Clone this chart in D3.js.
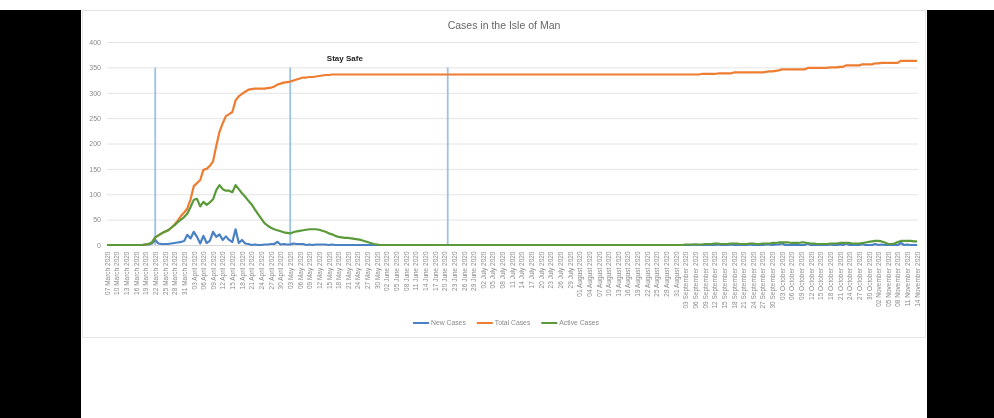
<!DOCTYPE html>
<html>
<head>
<meta charset="utf-8">
<script src="https://cdn.jsdelivr.net/npm/d3@7"></script>
<style>
	html, body { margin: 0; padding: 0; background: #000; }
	svg { display: block; filter: blur(0.45px); }
</style>
</head>
<body>
<div id="chart"></div>
<script>
// daily series, first value = 07 March 2020
const startDate = Date.UTC(2020, 2, 7);

const newCases = [
	0,0,0,0,0,0,0,0,0,0,
	0,0,1,1,3,10,3,2,2,2,
	3,4,5,6,8,20,13,26,16,3,
	18,4,8,26,16,21,10,17,10,6,
	31,4,10,3,2,0,1,0,0,1,
	1,2,2,6,1,2,1,1,3,2,
	2,2,0,1,0,1,1,1,1,0,
	1,0,0,0,0,0,0,0,0,0,
	0,0,0,0,0,0,0,0,0,0,
	0,0,0,0,0,0,0,0,0,0,
	0,0,0,0,0,0,0,0,0,0,
	0,0,0,0,0,0,0,0,0,0,
	0,0,0,0,0,0,0,0,0,0,
	0,0,0,0,0,0,0,0,0,0,
	0,0,0,0,0,0,0,0,0,0,
	0,0,0,0,0,0,0,0,0,0,
	0,0,0,0,0,0,0,0,0,0,
	0,0,0,0,0,0,0,0,0,0,
	0,0,0,1,0,0,0,0,0,0,
	1,0,0,0,1,0,0,0,0,0,
	1,0,0,0,0,1,1,0,1,1,
	3,0,0,0,0,0,0,0,3,0,
	0,0,0,0,0,1,0,0,1,0,
	3,0,0,0,0,2,0,0,0,2,
	0,1,0,0,0,0,0,4,0,1,
	0,0,0
];
const totalCases = [
	0,0,0,0,0,0,0,0,0,0,
	0,0,1,2,5,15,19,23,26,29,
	34,40,48,57,64,72,90,116,122,128,
	148,150,156,165,195,223,240,254,258,262,
	285,293,298,302,306,307,308,308,308,308,
	309,310,312,316,318,320,321,322,324,326,
	328,330,330,331,331,332,333,334,335,335,
	336,336,336,336,336,336,336,336,336,336,
	336,336,336,336,336,336,336,336,336,336,
	336,336,336,336,336,336,336,336,336,336,
	336,336,336,336,336,336,336,336,336,336,
	336,336,336,336,336,336,336,336,336,336,
	336,336,336,336,336,336,336,336,336,336,
	336,336,336,336,336,336,336,336,336,336,
	336,336,336,336,336,336,336,336,336,336,
	336,336,336,336,336,336,336,336,336,336,
	336,336,336,336,336,336,336,336,336,336,
	336,336,336,336,336,336,336,336,336,336,
	336,336,336,336,336,337,337,337,337,337,
	338,338,338,338,338,340,340,340,340,340,
	340,340,340,340,340,341,342,342,343,344,
	346,346,346,346,346,346,346,346,349,349,
	349,349,349,349,349,350,350,350,351,351,
	354,354,354,354,354,356,356,356,356,358,
	358,359,359,359,359,359,359,363,363,363,
	363,363,363
];
const activeCases = [
	0,0,0,0,0,0,0,0,0,0,
	0,0,1,2,5,15,19,23,26,29,
	34,39,45,50,55,62,75,89,91,76,
	85,79,84,90,108,118,110,107,107,104,
	118,110,102,95,87,80,70,61,52,43,
	38,34,31,29,27,25,24,23,25,27,
	28,29,30,31,31,31,30,28,26,23,
	21,18,16,15,14,14,13,12,11,10,
	8,6,4,2,1,0,0,0,0,0,
	0,0,0,0,0,0,0,0,0,0,
	0,0,0,0,0,0,0,0,0,0,
	0,0,0,0,0,0,0,0,0,0,
	0,0,0,0,0,0,0,0,0,0,
	0,0,0,0,0,0,0,0,0,0,
	0,0,0,0,0,0,0,0,0,0,
	0,0,0,0,0,0,0,0,0,0,
	0,0,0,0,0,0,0,0,0,0,
	0,0,0,0,0,0,0,0,0,0,
	1,1,1,1,1,1,2,2,2,3,
	3,2,2,2,3,3,3,2,2,2,
	3,3,2,2,3,3,3,4,4,5,
	5,5,5,4,4,4,5,5,4,3,
	3,2,2,2,2,3,3,3,4,4,
	4,4,3,3,3,4,5,6,7,8,
	8,7,5,2,2,3,6,8,8,8,
	8,7,7
];

const seriesNames = ['New Cases', 'Total Cases', 'Active Cases'];
const seriesColors = ['#4a80c4', '#ed7d31', '#5a9a3a'];
const yTicks = [0, 50, 100, 150, 200, 250, 300, 350, 400];
const tickEvery = 3;	// days between x labels

// vertical marker lines + note
const markerDates = [Date.UTC(2020, 2, 22), Date.UTC(2020, 4, 3), Date.UTC(2020, 5, 21)];
const markerTop = 350;
const noteText = 'Stay Safe';
const noteDate = Date.UTC(2020, 4, 20);
const noteValue = 368;

const chartTitle = 'Cases in the Isle of Man';

function renderChart() {
	const W = 994, H = 418;
	const panel = { left: 81, right: 927, top: 10, bottom: 337 };
	const plot = { left: 107, right: 917, top: 42, bottom: 245 };

	const dates = newCases.map((_, i) => d3.utcDay.offset(new Date(startDate), i));
	const series = [newCases, totalCases, activeCases];

	const svg = d3.select('#chart')
		.append('svg')
		.attr('width', W)
		.attr('height', H)
		.style('font-family', '"Liberation Sans", Arial, sans-serif');

	// page background
	svg.append('rect').attr('x', 0).attr('y', 0).attr('width', W).attr('height', panel.top).attr('fill', '#fff');
	svg.append('rect').attr('x', panel.left).attr('y', 0).attr('width', panel.right - panel.left).attr('height', H).attr('fill', '#fff');
	svg.append('rect')
		.attr('x', panel.left + 1.5).attr('y', panel.top + 0.5)
		.attr('width', panel.right - panel.left - 3).attr('height', panel.bottom - panel.top)
		.attr('fill', 'none')
		.attr('stroke', '#e6e6e6');

	const x = d3.scaleUtc().domain(d3.extent(dates)).range([plot.left, plot.right]);
	const y = d3.scaleLinear().domain([0, 400]).range([plot.bottom, plot.top]);

	// title
	svg.append('text')
		.attr('x', 504).attr('y', 28.5)
		.attr('text-anchor', 'middle')
		.style('font-size', '10.5px')
		.style('fill', '#666')
		.text(chartTitle);

	// gridlines
	svg.append('g')
		.selectAll('line')
		.data(yTicks.filter(d => d > 0))
		.enter()
		.append('line')
		.attr('x1', plot.left).attr('x2', plot.right + 1)
		.attr('y1', d => y(d) + 0.5).attr('y2', d => y(d) + 0.5)
		.attr('stroke', '#e4e4e4')
		.attr('stroke-width', 1);

	// y axis labels
	const yAxis = svg.append('g')
		.attr('transform', `translate(${plot.left - 6},0)`)
		.call(d3.axisLeft(y).tickValues(yTicks).tickSize(0).tickPadding(0));
	yAxis.select('.domain').remove();
	yAxis.selectAll('text')
		.style('font-size', '7px')
		.style('font-family', '"Liberation Sans", Arial, sans-serif')
		.style('fill', '#8a8a8a');

	// x axis
	const tickDates = dates.filter((_, i) => i % tickEvery === 0);
	const xAxis = svg.append('g')
		.attr('transform', `translate(0,${plot.bottom + 0.5})`)
		.call(d3.axisBottom(x).tickValues(tickDates).tickFormat(d3.utcFormat('%d %B %Y')).tickSize(0).tickPadding(0));
	xAxis.select('.domain')
		.attr('stroke', '#d6d6d6')
		.attr('d', `M${plot.left},0H${plot.right + 1}`);
	xAxis.selectAll('text')
		.attr('transform', 'rotate(-90)')
		.attr('x', -6)
		.attr('y', 0)
		.attr('dy', '0.35em')
		.style('text-anchor', 'end')
		.style('font-size', '6.5px')
		.style('font-family', '"Liberation Sans", Arial, sans-serif')
		.style('fill', '#8a8a8a');

	// markers
	svg.append('g')
		.selectAll('line')
		.data(markerDates)
		.enter()
		.append('line')
		.attr('x1', d => x(d)).attr('x2', d => x(d))
		.attr('y1', y(0)).attr('y2', y(markerTop))
		.attr('stroke', '#9cc2e6')
		.attr('stroke-width', 1.8);

	svg.append('text')
		.attr('x', x(noteDate)).attr('y', y(noteValue))
		.attr('dy', '0.35em')
		.attr('text-anchor', 'middle')
		.style('font-size', '8px')
		.style('font-weight', 'bold')
		.style('fill', '#222')
		.text(noteText);

	// series lines
	const line = d3.line()
		.x((d, i) => x(dates[i]))
		.y(d => y(d));

	svg.append('g')
		.selectAll('path')
		.data(series)
		.enter()
		.append('path')
		.attr('d', d => line(d))
		.attr('fill', 'none')
		.attr('stroke', (d, i) => seriesColors[i])
		.attr('stroke-width', 2.2)
		.attr('stroke-linejoin', 'round');

	// legend
	const legend = svg.append('g');
	let lx = 0;
	seriesNames.forEach((name, i) => {
		const item = legend.append('g').attr('transform', `translate(${lx},0)`);
		item.append('line')
			.attr('x1', 0).attr('x2', 16)
			.attr('y1', 0).attr('y2', 0)
			.attr('stroke', seriesColors[i])
			.attr('stroke-width', 2);
		const t = item.append('text')
			.attr('x', 18).attr('y', 0)
			.attr('dy', '0.35em')
			.style('font-size', '6.8px')
			.style('fill', '#8a8a8a')
			.text(name);
		lx += 18 + t.node().getComputedTextLength() + 11;
	});
	legend.attr('transform', `translate(${506 - (lx - 11) / 2},323)`);
}

renderChart();
</script>
</body>
</html>
